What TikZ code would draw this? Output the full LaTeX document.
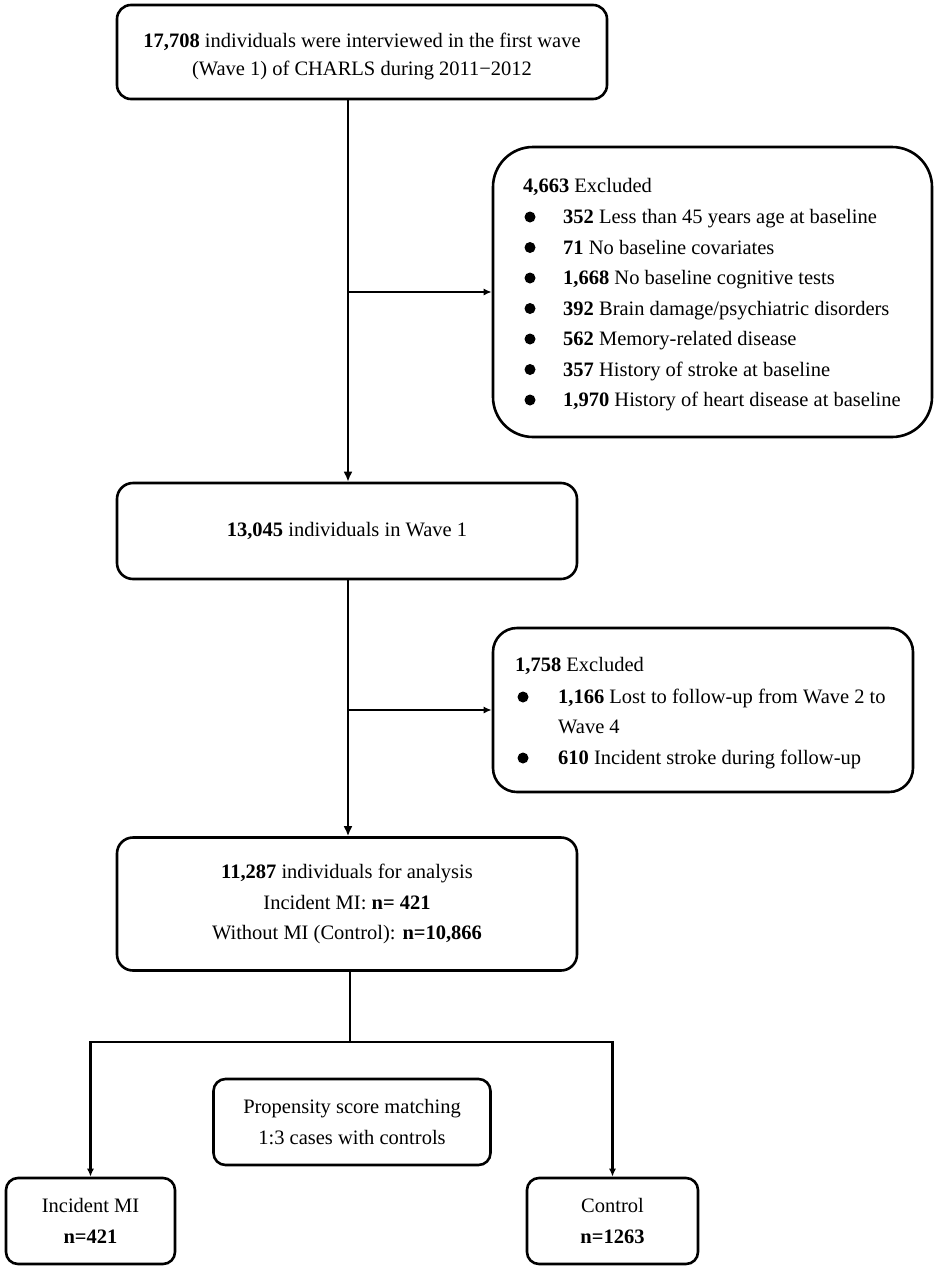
\documentclass[tikz,border=0pt]{standalone}
\usepackage{fontspec}
\setmainfont{Liberation Serif}
\usetikzlibrary{arrows.meta}
\begin{document}
\begin{tikzpicture}[x=1pt,y=-1pt,
  box/.style={draw,line width=2.6pt,rounded corners=#1,inner sep=0pt,align=center,font=\fontsize{20.5}{30.5}\selectfont},
  box/.default=16pt,
  conn/.style={line width=2.3pt},
  arr/.style={conn,-{Latex[length=10pt,width=9pt]}},
  sarr/.style={conn,-{Latex[length=8pt,width=7pt]}},
  txt/.style={anchor=base west,inner sep=0pt,font=\fontsize{20.5}{24}\selectfont},
  dot/.style={circle,fill=black,inner sep=0pt,minimum size=11pt}]
\useasboundingbox (0,0) rectangle (935,1269);
\fill[white] (0,0) rectangle (935,1269);

% main boxes
\node[box=14pt,minimum width=490pt,minimum height=94pt] (n1) at (362,52) {};
\node[align=center,inner sep=0pt,font=\fontsize{20.5}{28}\selectfont] (n1t) at (362,56)
  {\textbf{17,708} individuals were interviewed in the first wave\\(Wave 1) of CHARLS during 2011−2012};
\node[box=40pt,minimum width=439pt,minimum height=290pt] (ex1) at (712.5,292) {};
\node[box=16pt,minimum width=460pt,minimum height=96pt] (n2) at (347,531) {\textbf{13,045} individuals in Wave 1};
\node[box=24pt,minimum width=420pt,minimum height=164pt] (ex2) at (703,710) {};
\node[box=16pt,minimum width=460pt,minimum height=133pt] (n3) at (347,904)
  {\textbf{11,287} individuals for analysis\\Incident MI: \textbf{n= 421}\\Without MI (Control): \textbf{n=10,866}};
\node[box=12pt,minimum width=277pt,minimum height=86pt] (psm) at (352,1122)
  {Propensity score matching\\1:3 cases with controls};
\node[box=12pt,minimum width=169pt,minimum height=86pt] (mi) at (90.5,1221) {Incident MI\\\textbf{n=421}};
\node[box=12pt,minimum width=171pt,minimum height=86pt] (ctl) at (612.5,1221) {Control\\\textbf{n=1263}};

% exclusion list 1
\node[txt] (e1h) at (523,192) {\textbf{4,663} Excluded};
\node[dot] (d1) at (530,217) {};
\node[txt] (e1a) at (563,223.5) {\textbf{352} Less than 45 years age at baseline};
\node[dot] (d2) at (530,247.5) {};
\node[txt] (e1b) at (563,254) {\textbf{71} No baseline covariates};
\node[dot] (d3) at (530,278) {};
\node[txt] (e1c) at (563,284.5) {\textbf{1,668} No baseline cognitive tests};
\node[dot] (d4) at (530,308.5) {};
\node[txt] (e1d) at (563,315) {\textbf{392} Brain damage/psychiatric disorders};
\node[dot] (d5) at (530,339) {};
\node[txt] (e1e) at (563,345.5) {\textbf{562} Memory-related disease};
\node[dot] (d6) at (530,369.5) {};
\node[txt] (e1f) at (563,376) {\textbf{357} History of stroke at baseline};
\node[dot] (d7) at (530,400) {};
\node[txt] (e1g) at (563,406.5) {\textbf{1,970} History of heart disease at baseline};

% exclusion list 2
\node[txt] (e2h) at (515,671) {\textbf{1,758} Excluded};
\node[dot] (f1) at (523,697) {};
\node[txt] (e2a) at (558,703) {\textbf{1,166} Lost to follow-up from Wave 2 to};
\node[txt] (e2b) at (558,733.5) {Wave 4};
\node[dot] (f2) at (523,758) {};
\node[txt] (e2c) at (558,764) {\textbf{610} Incident stroke during follow-up};

% connectors
\coordinate (sp) at (348,0);
\coordinate (split) at (350,1042);
\draw[arr] (n1.south -| sp) -- (n2.north -| sp);
\draw[sarr] (sp |- ex1.west) -- (ex1.west);
\draw[arr] (n2.south -| sp) -- (n3.north -| sp);
\draw[sarr] (sp |- ex2.west) -- (ex2.west);
\draw[conn] (n3.south -| split) -- (split);
\draw[sarr] (split) -| (mi.north);
\draw[sarr] (split) -| (ctl.north);
\end{tikzpicture}
\end{document}
